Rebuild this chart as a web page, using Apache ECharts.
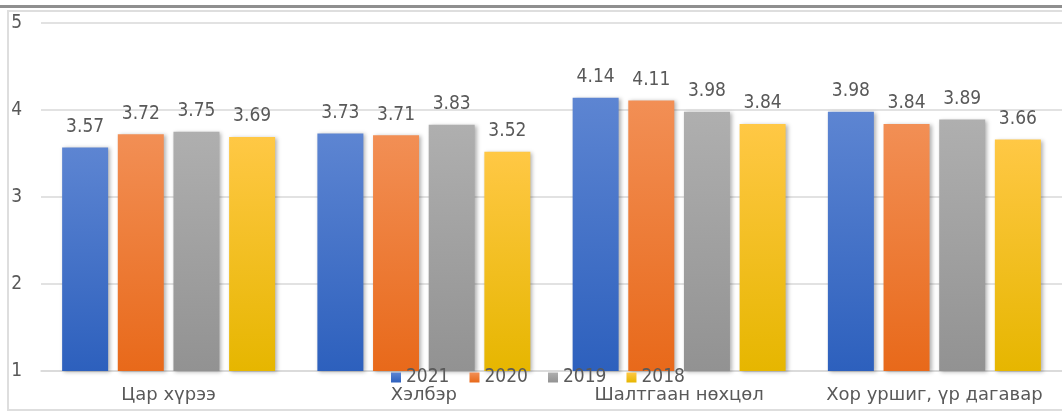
<!DOCTYPE html>
<html>
<head>
<meta charset="utf-8">
<script src="https://cdn.jsdelivr.net/npm/echarts@6/dist/echarts.min.js"></script>
<style>
  html, body { margin: 0; padding: 0; background: #fff; }
  #chart { width: 1062px; height: 415px; }
</style>
</head>
<body>
<div id="chart"></div>
<script>
// categories and series values
const categories = ['Цар хүрээ', 'Хэлбэр', 'Шалтгаан нөхцөл', 'Хор уршиг, үр дагавар']
const years = ['2021', '2020', '2019', '2018']
const values2021 = [3.57, 3.73, 4.14, 3.98]
const values2020 = [3.72, 3.71, 4.11, 3.84]
const values2019 = [3.75, 3.83, 3.98, 3.89]
const values2018 = [3.69, 3.52, 3.84, 3.66]
const yTicks = [1, 2, 3, 4, 5]

// gradient colours (top -> bottom)
const colors = [
  ['#5d85d2', '#2d60bd'],
  ['#f28f55', '#e8691a'],
  ['#afafaf', '#929292'],
  ['#ffc845', '#e6b600']
]

const chart = echarts.init(document.getElementById('chart'))

const textColor = '#595959'
const numFont = '"DejaVu Sans Condensed", "DejaVu Sans", sans-serif'

const makeSeries = (name, data, idx) => ({
  name: name,
  type: 'bar',
  data: data,
  barWidth: 46,
  barGap: '21%',
  itemStyle: {
    color: new echarts.graphic.LinearGradient(0, 0, 0, 1, [
      { offset: 0, color: colors[idx][0] },
      { offset: 1, color: colors[idx][1] }
    ]),
    shadowBlur: 4,
    shadowOffsetX: 2,
    shadowOffsetY: 1,
    shadowColor: 'rgba(0, 0, 0, 0.3)'
  },
  label: {
    show: true,
    position: 'top',
    distance: 11,
    color: textColor,
    fontSize: 19,
    fontFamily: numFont
  }
})

const option = {
  animation: false,
  backgroundColor: '#fff',
  graphic: [
    {
      type: 'rect',
      shape: { x: 0, y: 5, width: 1062, height: 3 },
      style: { fill: '#8f8f8f' },
      silent: true
    },
    {
      type: 'rect',
      shape: { x: 8, y: 11, width: 1070, height: 399 },
      style: { fill: 'none', stroke: '#dedede', lineWidth: 2 },
      silent: true
    }
  ],
  legend: {
    data: years,
    left: 391,
    top: 368,
    padding: 0,
    itemWidth: 10,
    itemHeight: 10,
    itemGap: 20,
    icon: 'rect',
    textStyle: {
      color: textColor,
      fontSize: 19,
      fontFamily: numFont
    }
  },
  grid: {
    left: 41,
    top: 23,
    width: 1025,
    height: 348
  },
  xAxis: {
    type: 'category',
    data: categories,
    axisLine: { lineStyle: { color: '#d9d9d9', width: 1.5 } },
    axisTick: { show: false },
    axisLabel: {
      interval: 0,
      hideOverlap: false,
      color: textColor,
      fontSize: 18,
      fontFamily: '"DejaVu Sans", sans-serif',
      margin: 15
    }
  },
  yAxis: {
    type: 'value',
    min: yTicks[0],
    max: yTicks[yTicks.length - 1],
    interval: 1,
    axisLine: { show: false },
    axisTick: { show: false },
    axisLabel: {
      color: textColor,
      fontSize: 19,
      fontFamily: numFont,
      margin: 19
    },
    splitLine: { lineStyle: { color: '#d9d9d9', width: 1.5 } }
  },
  series: [
    makeSeries(years[0], values2021, 0),
    makeSeries(years[1], values2020, 1),
    makeSeries(years[2], values2019, 2),
    makeSeries(years[3], values2018, 3)
  ]
}

chart.setOption(option)
</script>
</body>
</html>
